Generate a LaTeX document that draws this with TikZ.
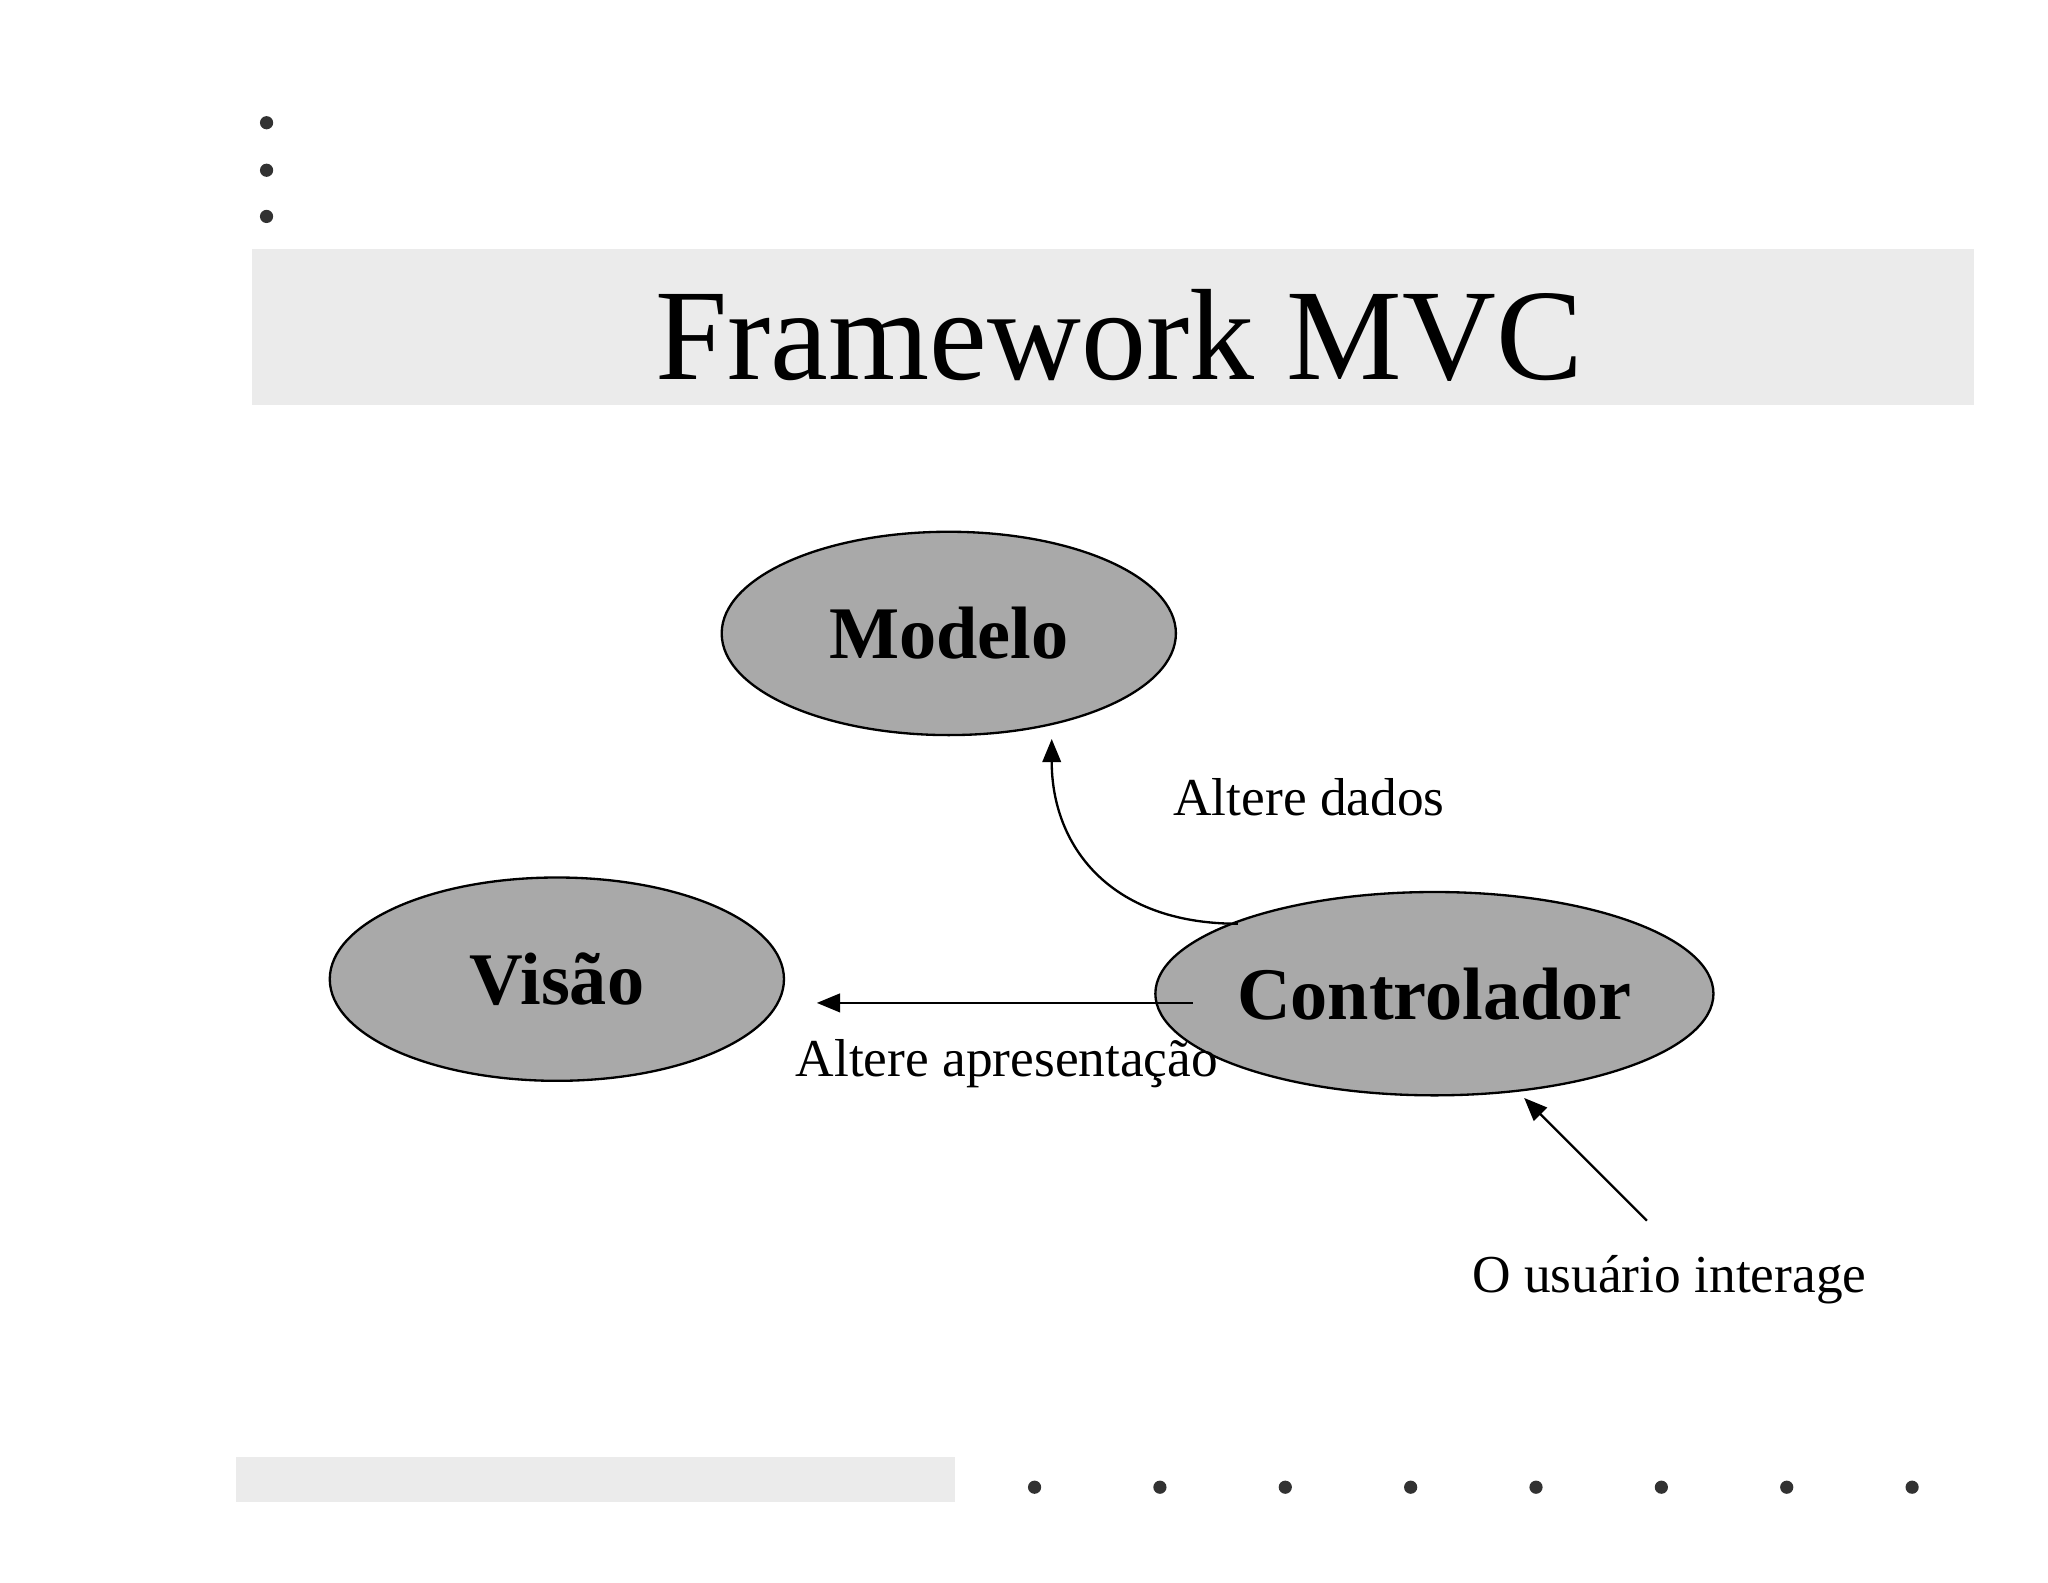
\documentclass[tikz,border=0pt]{standalone}
\usepackage{fontspec}
\setmainfont{Liberation Serif}
\usetikzlibrary{shapes.geometric,arrows.meta}
\begin{document}
\begin{tikzpicture}[x=0.01cm,y=-0.01cm,
  ell/.style={ellipse,draw,fill={rgb,255:red,169;green,169;blue,169},minimum width=344\pgflinewidth*0+3.44cm,minimum height=1.54cm,inner sep=0pt,font=\fontsize{16}{18}\selectfont\bfseries,line width=0.5pt},
  arr/.style={-{Triangle[length=5pt,width=4pt]},line width=0.5pt},
  lbl/.style={font=\fontsize{11.5}{13}\selectfont},
  dot/.style={circle,fill={rgb,255:red,50;green,50;blue,50},inner sep=0pt,minimum size=0.1cm}]
\useasboundingbox (0,0) rectangle (1552,1199);
\fill[fill={rgb,255:red,235;green,235;blue,235}] (191,189) rectangle (1496,307);
\fill[fill={rgb,255:red,235;green,235;blue,235}] (179,1104) rectangle (724,1138);
\node[font=\fontsize{28}{32}\selectfont] (title) at (848,254) {Framework MVC};
\foreach \y [count=\i] in {93,129,164} \node[dot] (td\i) at (202,\y) {};
\foreach \x [count=\i] in {784,879,974,1069,1164,1259,1354,1449} \node[dot] (bd\i) at (\x,1127) {};
\node[ell] (m) at (719,480) {Modelo};
\node[ell] (v) at (422,742) {Visão};
\node[ell] (c) at (1087,753) {Controlador};
\coordinate (a1) at (938,700);
\coordinate (a2) at (797,560);
\draw[arr] (a1) .. controls (840,700) and (797,640) .. (a2);
\node[lbl] (l1) at (992,604) {Altere dados};
\coordinate (b1) at (904,760);
\coordinate (b2) at (619,760);
\draw[arr] (b1) -- (b2);
\node[lbl] (l2) at (763,806) {Altere apresentação};
\coordinate (u1) at (1248,925);
\coordinate (u2) at (1155,832);
\draw[arr] (u1) -- (u2);
\node[lbl] (l3) at (1265,970) {O usuário interage};
\end{tikzpicture}
\end{document}
